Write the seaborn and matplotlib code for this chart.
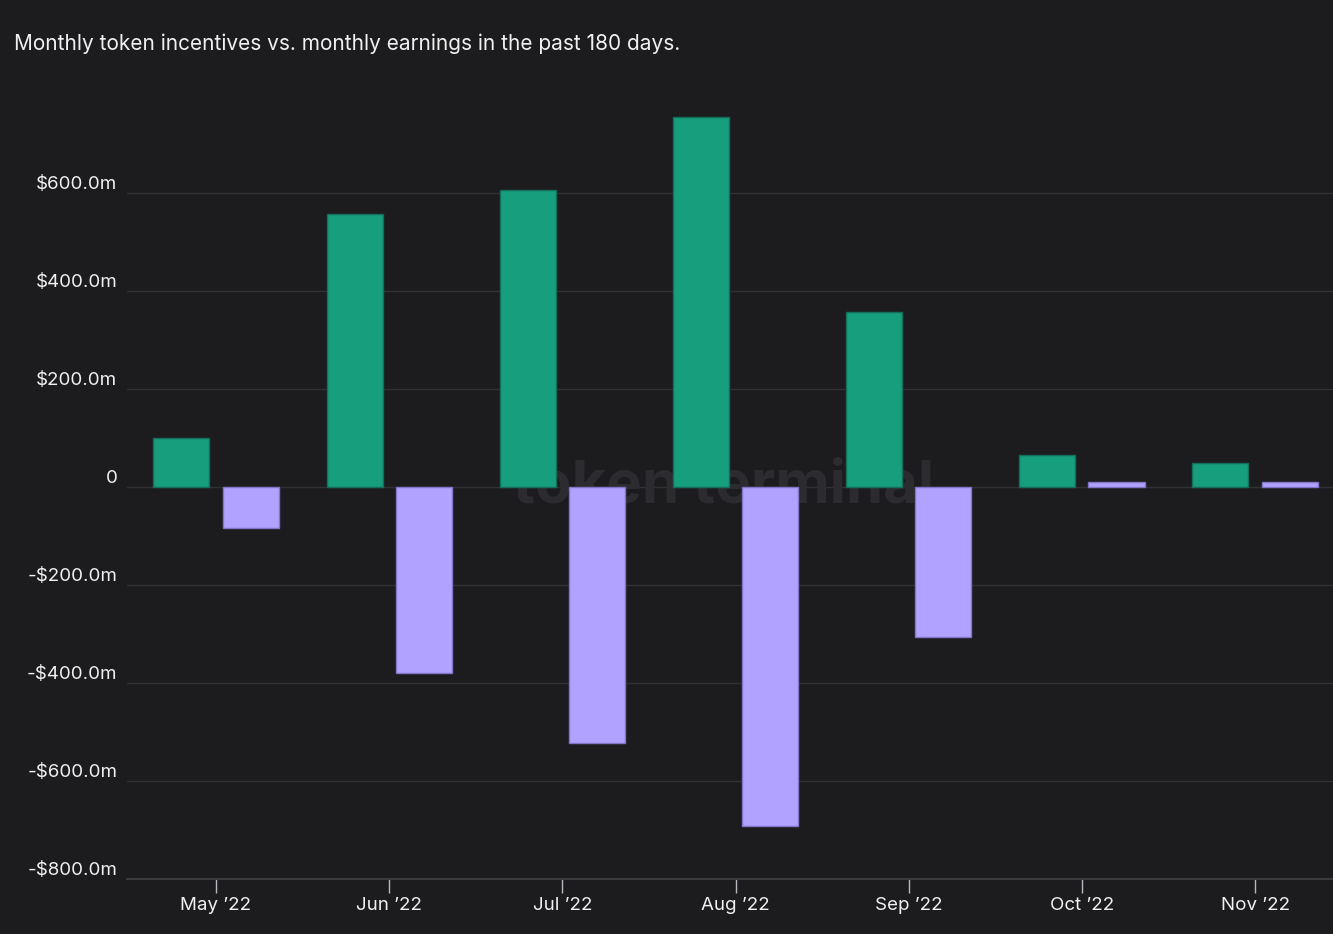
import pandas as pd
import matplotlib.pyplot as plt
import seaborn as sns
from matplotlib.ticker import FuncFormatter
from matplotlib.transforms import ScaledTranslation

# values in $m
months = ["May ’22", "Jun ’22", "Jul ’22", "Aug ’22", "Sep ’22", "Oct ’22", "Nov ’22"]
token_incentives = [100, 557, 606, 755, 357, 65, 49]
earnings = [-84, -380, -522, -692, -306, 11, 11]
series_names = ["Token incentives", "Earnings"]
y_ticks = [-800, -600, -400, -200, 0, 200, 400, 600]

BG = "#1c1c1e"
TEXT = "#f0f0f0"
GREEN = "#179e7c"
PURPLE = "#b2a2ff"

df = pd.DataFrame({
    "month": months * 2,
    "series": [series_names[0]] * len(months) + [series_names[1]] * len(months),
    "value": token_incentives + earnings,
})

sns.set_theme(style="dark")
plt.rcParams["font.family"] = ["Inter", "DejaVu Sans"]

fig = plt.figure(figsize=(13.33, 9.34), dpi=100, facecolor=BG)
ax = fig.add_axes([0.0953, 0.0589, 0.9047, 0.8394])
ax.set_facecolor(BG)

sns.barplot(
    data=df, x="month", y="value", hue="series",
    hue_order=series_names, order=months,
    palette=[GREEN, PURPLE], saturation=1, width=0.8, gap=0.19,
    legend=False, ax=ax, zorder=3,
)

# darker outlines per series
for cont, ec in zip(ax.containers, ["#12705a", "#8175c8"]):
    for p in cont:
        p.set_edgecolor(ec)
        p.set_linewidth(1.0)

# faint watermark
ax.text(0.495, 0.5, "token terminal", transform=ax.transAxes, ha="center", va="center",
        fontsize=43, fontweight="bold", color="#2c2c30", zorder=1)

ax.set_xlim(-0.514, 6.45)
ax.set_ylim(-800, 800)
ax.set_yticks(y_ticks)


def fmt(v, pos):
    if v == 0:
        return "0"
    sign = "-" if v < 0 else ""
    return f"{sign}${abs(v):.1f}m"


ax.yaxis.set_major_formatter(FuncFormatter(fmt))
ax.grid(axis="y", color="#313134", linewidth=1, zorder=0)
ax.grid(axis="x", visible=False)
ax.set_axisbelow(True)

for s in ["top", "right", "left"]:
    ax.spines[s].set_visible(False)
ax.spines["bottom"].set_color("#3b3b3e")
ax.spines["bottom"].set_linewidth(1.5)

ax.tick_params(axis="y", length=0, pad=7, labelsize=13.5, labelcolor=TEXT)
ax.tick_params(axis="x", bottom=True, length=10, width=1, color="#b8b8c0",
               direction="out", pad=3, labelsize=13.5, labelcolor=TEXT)
# y labels sit just above their gridlines
shift = ScaledTranslation(0, 10 / 100, fig.dpi_scale_trans)
for lbl in ax.get_yticklabels():
    lbl.set_transform(lbl.get_transform() + shift)
ax.set_xlabel("")
ax.set_ylabel("")

fig.text(0.0105, 0.953, "Monthly token incentives vs. monthly earnings in the past 180 days.",
         ha="left", va="center", fontsize=15, color=TEXT)

fig.savefig("out.png", dpi=100, facecolor=BG)
